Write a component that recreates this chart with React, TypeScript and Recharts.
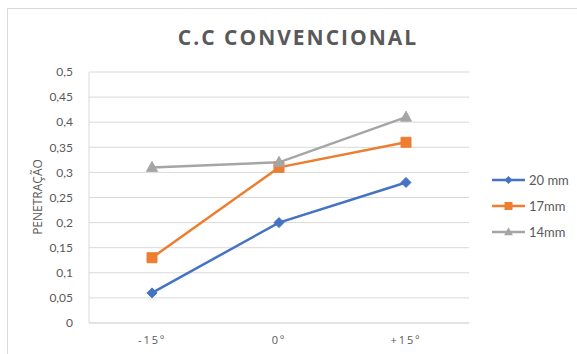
import { LineChart, Line, XAxis, YAxis, CartesianGrid, Legend } from "recharts";

const categories = ["-15º", "0º", "+15º"];
const series20mm = [0.06, 0.2, 0.28];
const series17mm = [0.13, 0.31, 0.36];
const series14mm = [0.31, 0.32, 0.41];
const yTicks = [0, 0.05, 0.1, 0.15, 0.2, 0.25, 0.3, 0.35, 0.4, 0.45, 0.5];

const SERIES = [
  { key: "s20", name: "20 mm", color: "#4472C4", shape: "diamond" },
  { key: "s17", name: "17mm", color: "#ED7D31", shape: "square" },
  { key: "s14", name: "14mm", color: "#A5A5A5", shape: "triangle" },
];

const data = categories.map((c, i) => ({
  cat: c,
  s20: series20mm[i],
  s17: series17mm[i],
  s14: series14mm[i],
}));

const AXIS_TEXT = "#595959";
const GRID = "#d9d9d9";

function markerPath(shape: string, cx: number, cy: number) {
  if (shape === "diamond") {
    const r = 5;
    return `M${cx},${cy - r}L${cx + r},${cy}L${cx},${cy + r}L${cx - r},${cy}Z`;
  }
  if (shape === "square") {
    const r = 5;
    return `M${cx - r},${cy - r}h${2 * r}v${2 * r}h${-2 * r}Z`;
  }
  return `M${cx},${cy - 6}L${cx + 5.5},${cy + 4}L${cx - 5.5},${cy + 4}Z`;
}

function makeDot(shape: string, color: string) {
  return (props: any) => {
    const { cx, cy, index } = props;
    if (cx == null || cy == null) return <g key={index} />;
    return <path key={index} d={markerPath(shape, cx, cy)} fill={color} stroke={color} strokeWidth={1} />;
  };
}

function renderLegend() {
  return (
    <div>
      {SERIES.map((s) => (
        <div key={s.key} style={{ display: "flex", alignItems: "center", height: 26 }}>
          <svg width={36} height={14}>
            <line x1={1} y1={7} x2={34} y2={7} stroke={s.color} strokeWidth={2.5} />
            <path d={markerPath(s.shape, 17.5, 7)} fill={s.color} transform="translate(17.5 7) scale(0.8) translate(-17.5 -7)" />
          </svg>
          <span style={{ marginLeft: 2, fontSize: 13, color: AXIS_TEXT, fontFamily: "Lato, sans-serif" }}>{s.name}</span>
        </div>
      ))}
    </div>
  );
}

export default function App() {
  return (
    <div
      style={{
        position: "absolute",
        left: 0,
        top: 0,
        width: 577,
        height: 354,
        overflow: "hidden",
        background: "#fff",
        fontFamily: "Lato, sans-serif",
      }}
    >
      <div
        style={{
          position: "absolute",
          left: 7,
          top: 8,
          width: 640,
          height: 400,
          border: `1px solid ${GRID}`,
        }}
      />
      <div
        style={{
          position: "absolute",
          left: 0,
          width: 596,
          top: 23,
          textAlign: "center",
          fontFamily: "'Open Sans', sans-serif",
          fontWeight: 700,
          fontSize: 21,
          letterSpacing: 2,
          color: AXIS_TEXT,
        }}
      >
        C.C CONVENCIONAL
      </div>
      <div
        style={{
          position: "absolute",
          left: 37,
          top: 197,
          transform: "translate(-50%, -50%) rotate(-90deg)",
          fontSize: 12,
          color: AXIS_TEXT,
          whiteSpace: "nowrap",
          fontFamily: "'Open Sans', sans-serif",
        }}
      >
        PENETRAÇÃO
      </div>
      <div style={{ position: "absolute", left: 0, top: 0 }}>
        <LineChart width={577} height={354} data={data} margin={{ top: 72, right: 108, bottom: 1, left: 29 }}>
          <CartesianGrid horizontal vertical={false} stroke={GRID} strokeWidth={1} />
          <XAxis
            dataKey="cat"
            padding={{ left: 63, right: 63 }}
            axisLine={{ stroke: GRID }}
            tickLine={false}
            tickSize={0}
            tickMargin={13}
            height={30}
            tick={{ fill: AXIS_TEXT, fontSize: 11, letterSpacing: 2, fontFamily: "'Open Sans', sans-serif" }}
          />
          <YAxis
            type="number"
            domain={[0, 0.5]}
            ticks={yTicks}
            width={60}
            axisLine={{ stroke: GRID }}
            tickLine={false}
            tickSize={0}
            tickMargin={16}
            tickFormatter={(v: number) => String(v).replace(".", ",")}
            tick={{ fill: AXIS_TEXT, fontSize: 12 }}
          />
          <Legend
            layout="vertical"
            align="center"
            verticalAlign="middle"
            content={renderLegend}
            wrapperStyle={{ left: 491, top: 167, width: 86 }}
          />
          {SERIES.map((s) => (
            <Line
              key={s.key}
              type="linear"
              dataKey={s.key}
              name={s.name}
              stroke={s.color}
              strokeWidth={2.5}
              dot={makeDot(s.shape, s.color)}
              activeDot={false}
              isAnimationActive={false}
            />
          ))}
        </LineChart>
      </div>
    </div>
  );
}
